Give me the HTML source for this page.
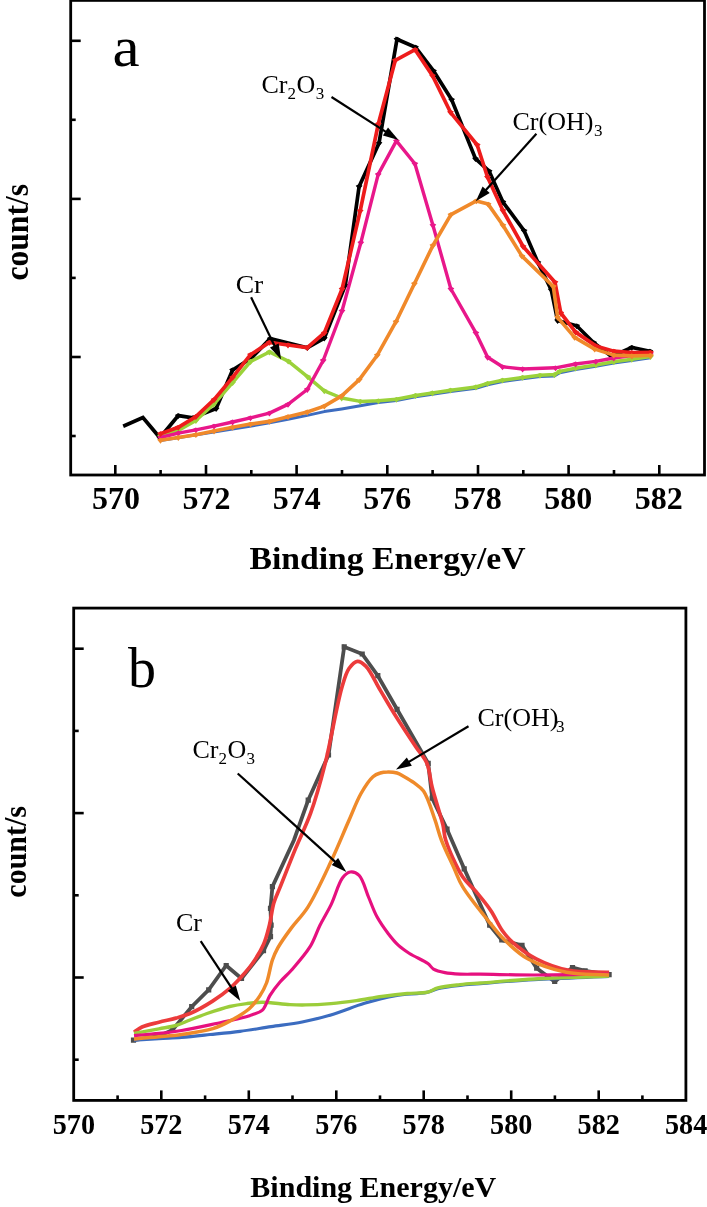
<!DOCTYPE html><html><head><meta charset="utf-8"><style>
html,body{margin:0;padding:0;background:#fff;}
body{width:707px;height:1207px;overflow:hidden;}
svg{display:block;will-change:transform;}
text{font-family:"Liberation Serif",serif;fill:#000;}
.tl{font-size:32px;font-weight:bold;}
.tlb{font-size:30px;font-weight:bold;}
.ttl{font-size:31px;font-weight:bold;}
.ttlb{font-size:30px;font-weight:bold;}
.lbl{font-size:56px;}
.ann{font-size:26px;}
.sub{font-size:17px;}
</style></head><body><svg width="707" height="1207" viewBox="0 0 707 1207"><rect x="70.7" y="0.4" width="633.8" height="474.6" fill="none" stroke="#000" stroke-width="2.8"/><line x1="70.7" y1="40.8" x2="80.7" y2="40.8" stroke="#000" stroke-width="2.6"/><line x1="70.7" y1="119.8" x2="75.7" y2="119.8" stroke="#000" stroke-width="2.6"/><line x1="70.7" y1="198.9" x2="80.7" y2="198.9" stroke="#000" stroke-width="2.6"/><line x1="70.7" y1="277.9" x2="75.7" y2="277.9" stroke="#000" stroke-width="2.6"/><line x1="70.7" y1="357.0" x2="80.7" y2="357.0" stroke="#000" stroke-width="2.6"/><line x1="70.7" y1="436.0" x2="75.7" y2="436.0" stroke="#000" stroke-width="2.6"/><line x1="115.3" y1="475.0" x2="115.3" y2="465.0" stroke="#000" stroke-width="2.6"/><text x="115.9" y="509.0" text-anchor="middle" class="tl">570</text><line x1="160.6" y1="475.0" x2="160.6" y2="470.0" stroke="#000" stroke-width="2.6"/><line x1="206.0" y1="475.0" x2="206.0" y2="465.0" stroke="#000" stroke-width="2.6"/><text x="206.4" y="509.0" text-anchor="middle" class="tl">572</text><line x1="251.3" y1="475.0" x2="251.3" y2="470.0" stroke="#000" stroke-width="2.6"/><line x1="296.6" y1="475.0" x2="296.6" y2="465.0" stroke="#000" stroke-width="2.6"/><text x="296.8" y="509.0" text-anchor="middle" class="tl">574</text><line x1="342.0" y1="475.0" x2="342.0" y2="470.0" stroke="#000" stroke-width="2.6"/><line x1="387.3" y1="475.0" x2="387.3" y2="465.0" stroke="#000" stroke-width="2.6"/><text x="387.3" y="509.0" text-anchor="middle" class="tl">576</text><line x1="432.6" y1="475.0" x2="432.6" y2="470.0" stroke="#000" stroke-width="2.6"/><line x1="478.0" y1="475.0" x2="478.0" y2="465.0" stroke="#000" stroke-width="2.6"/><text x="477.7" y="509.0" text-anchor="middle" class="tl">578</text><line x1="523.3" y1="475.0" x2="523.3" y2="470.0" stroke="#000" stroke-width="2.6"/><line x1="568.6" y1="475.0" x2="568.6" y2="465.0" stroke="#000" stroke-width="2.6"/><text x="568.2" y="509.0" text-anchor="middle" class="tl">580</text><line x1="614.0" y1="475.0" x2="614.0" y2="470.0" stroke="#000" stroke-width="2.6"/><line x1="659.3" y1="475.0" x2="659.3" y2="465.0" stroke="#000" stroke-width="2.6"/><text x="658.7" y="509.0" text-anchor="middle" class="tl">582</text><text transform="translate(387.5 568.9) scale(1.087 1)" text-anchor="middle" class="ttl">Binding Energy/eV</text><text transform="translate(27.6 232.3) rotate(-90) scale(1.02 1.06)" text-anchor="middle" class="ttl">count/s</text><text transform="translate(112.5 66) scale(1.09 1)" class="lbl">a</text><path d="M123.2 426.3 L142.9 417.6 L159.9 437.8 L178.3 415.6 L192.7 417.8 L216.1 408.6 L232.6 370.0 L251.1 358.3 L270.2 338.6 L307.3 347.7 L324.3 338.2 L345.3 285.2 L359.1 186.5 L379.0 143.1 L397.0 39.2 L415.5 47.2 L433.5 70.9 L451.6 99.6 L475.5 158.6 L489.1 171.2 L502.9 202.0 L524.1 230.6 L537.9 262.5 L551.2 289.7 L557.6 320.5 L576.7 325.8 L593.7 342.7 L611.7 356.5 L631.8 347.4 L649.9 351.2" fill="none" stroke="#000" stroke-width="3.7" stroke-linejoin="miter"/><path d="M159.9 441.2 L163.3 437.1 L159.9 435.4 L156.5 437.1 Z M178.3 419.0 L181.7 414.9 L178.3 413.2 L174.9 414.9 Z M192.7 421.2 L196.1 417.1 L192.7 415.4 L189.3 417.1 Z M216.1 412.0 L219.5 407.9 L216.1 406.2 L212.7 407.9 Z M232.6 373.4 L236.0 369.3 L232.6 367.6 L229.2 369.3 Z M251.1 361.7 L254.5 357.6 L251.1 355.9 L247.7 357.6 Z M270.2 342.0 L273.6 337.9 L270.2 336.2 L266.8 337.9 Z M307.3 351.1 L310.7 347.0 L307.3 345.3 L303.9 347.0 Z M324.3 341.6 L327.7 337.5 L324.3 335.8 L320.9 337.5 Z M345.3 288.6 L348.7 284.5 L345.3 282.8 L341.9 284.5 Z M359.1 189.9 L362.5 185.8 L359.1 184.1 L355.7 185.8 Z M379.0 146.5 L382.4 142.4 L379.0 140.7 L375.6 142.4 Z M397.0 42.6 L400.4 38.5 L397.0 36.8 L393.6 38.5 Z M415.5 50.6 L418.9 46.5 L415.5 44.8 L412.1 46.5 Z M433.5 74.3 L436.9 70.2 L433.5 68.5 L430.1 70.2 Z M451.6 103.0 L455.0 98.9 L451.6 97.2 L448.2 98.9 Z M475.5 162.0 L478.9 157.9 L475.5 156.2 L472.1 157.9 Z M489.1 174.6 L492.5 170.5 L489.1 168.8 L485.7 170.5 Z M502.9 205.4 L506.3 201.3 L502.9 199.6 L499.5 201.3 Z M524.1 234.0 L527.5 229.9 L524.1 228.2 L520.7 229.9 Z M537.9 265.9 L541.3 261.8 L537.9 260.1 L534.5 261.8 Z M551.2 293.1 L554.6 289.0 L551.2 287.3 L547.8 289.0 Z M557.6 323.9 L561.0 319.8 L557.6 318.1 L554.2 319.8 Z M576.7 329.2 L580.1 325.1 L576.7 323.4 L573.3 325.1 Z M593.7 346.1 L597.1 342.0 L593.7 340.3 L590.3 342.0 Z M611.7 359.9 L615.1 355.8 L611.7 354.1 L608.3 355.8 Z M631.8 350.8 L635.2 346.7 L631.8 345.0 L628.4 346.7 Z M649.9 354.6 L653.3 350.5 L649.9 348.8 L646.5 350.5 Z" fill="#000"/><path d="M160.5 440.5 L251.3 426.0 L269.4 422.8 L288.0 419.2 L307.3 415.4 L324.3 411.6 L341.7 409.0 L360.3 405.8 L378.4 402.6 L396.4 400.6 L415.5 396.8 L432.4 394.3 L450.5 391.5 L475.9 388.3 L487.6 384.7 L502.5 381.5 L522.6 378.7 L540.0 376.6 L554.4 375.9 L559.7 372.7 L575.6 369.5 L595.8 366.3 L613.8 363.1 L631.8 360.6 L650.5 357.8" fill="none" stroke="#3d6cc0" stroke-width="3.0" stroke-linejoin="round"/><path d="M160.5 435.8 L178.3 430.5 L195.9 420.5 L214.0 404.0 L232.6 382.7 L250.5 361.5 L269.4 352.0 L288.2 361.1 L307.7 376.8 L324.3 390.8 L341.7 398.0 L360.3 401.4 L378.4 400.8 L396.4 399.3 L415.5 395.5 L432.4 393.0 L450.5 390.2 L475.9 387.0 L487.6 383.4 L502.5 380.2 L522.6 377.4 L540.0 375.3 L554.4 374.6 L559.7 371.4 L575.6 368.2 L595.8 365.0 L613.8 361.8 L631.8 359.3 L650.5 356.5" fill="none" stroke="#9bd23a" stroke-width="3.5" stroke-linejoin="round"/><path d="M160.5 439.2 L163.9 435.1 L160.5 433.4 L157.1 435.1 Z M178.3 433.9 L181.7 429.8 L178.3 428.1 L174.9 429.8 Z M195.9 423.9 L199.3 419.8 L195.9 418.1 L192.5 419.8 Z M214.0 407.4 L217.4 403.3 L214.0 401.6 L210.6 403.3 Z M232.6 386.1 L236.0 382.0 L232.6 380.3 L229.2 382.0 Z M250.5 364.9 L253.9 360.8 L250.5 359.1 L247.1 360.8 Z M269.4 355.4 L272.8 351.3 L269.4 349.6 L266.0 351.3 Z M288.2 364.5 L291.6 360.4 L288.2 358.7 L284.8 360.4 Z M307.7 380.2 L311.1 376.1 L307.7 374.4 L304.3 376.1 Z M324.3 394.2 L327.7 390.1 L324.3 388.4 L320.9 390.1 Z M341.7 401.4 L345.1 397.3 L341.7 395.6 L338.3 397.3 Z M360.3 404.8 L363.7 400.7 L360.3 399.0 L356.9 400.7 Z M378.4 404.2 L381.8 400.1 L378.4 398.4 L375.0 400.1 Z M396.4 402.7 L399.8 398.6 L396.4 396.9 L393.0 398.6 Z M415.5 398.9 L418.9 394.8 L415.5 393.1 L412.1 394.8 Z M432.4 396.4 L435.8 392.3 L432.4 390.6 L429.0 392.3 Z M450.5 393.6 L453.9 389.5 L450.5 387.8 L447.1 389.5 Z M475.9 390.4 L479.3 386.3 L475.9 384.6 L472.5 386.3 Z M487.6 386.8 L491.0 382.7 L487.6 381.0 L484.2 382.7 Z M502.5 383.6 L505.9 379.5 L502.5 377.8 L499.1 379.5 Z M522.6 380.8 L526.0 376.7 L522.6 375.0 L519.2 376.7 Z M540.0 378.7 L543.4 374.6 L540.0 372.9 L536.6 374.6 Z M554.4 378.0 L557.8 373.9 L554.4 372.2 L551.0 373.9 Z M559.7 374.8 L563.1 370.7 L559.7 369.0 L556.3 370.7 Z M575.6 371.6 L579.0 367.5 L575.6 365.8 L572.2 367.5 Z M595.8 368.4 L599.2 364.3 L595.8 362.6 L592.4 364.3 Z M613.8 365.2 L617.2 361.1 L613.8 359.4 L610.4 361.1 Z M631.8 362.7 L635.2 358.6 L631.8 356.9 L628.4 358.6 Z M650.5 359.9 L653.9 355.8 L650.5 354.1 L647.1 355.8 Z" fill="#9bd23a"/><path d="M160.5 437.5 L178.3 433.2 L195.9 429.9 L214.0 426.2 L232.6 422.0 L250.5 417.8 L269.4 413.1 L288.0 404.4 L307.3 389.5 L323.2 360.5 L342.0 311.0 L360.8 242.7 L378.2 174.4 L396.4 140.9 L414.9 163.8 L432.9 225.3 L450.9 289.0 L475.9 332.9 L487.6 357.3 L502.5 366.8 L522.6 369.0 L555.5 367.8 L575.6 364.0 L595.8 361.4 L613.8 358.0 L631.8 355.5 L650.5 353.4" fill="none" stroke="#e8178a" stroke-width="3.4" stroke-linejoin="round"/><path d="M160.5 440.9 L163.9 436.8 L160.5 435.1 L157.1 436.8 Z M178.3 436.6 L181.7 432.5 L178.3 430.8 L174.9 432.5 Z M195.9 433.3 L199.3 429.2 L195.9 427.5 L192.5 429.2 Z M214.0 429.6 L217.4 425.5 L214.0 423.8 L210.6 425.5 Z M232.6 425.4 L236.0 421.3 L232.6 419.6 L229.2 421.3 Z M250.5 421.2 L253.9 417.1 L250.5 415.4 L247.1 417.1 Z M269.4 416.5 L272.8 412.4 L269.4 410.7 L266.0 412.4 Z M288.0 407.8 L291.4 403.7 L288.0 402.0 L284.6 403.7 Z M307.3 392.9 L310.7 388.8 L307.3 387.1 L303.9 388.8 Z M323.2 363.9 L326.6 359.8 L323.2 358.1 L319.8 359.8 Z M342.0 314.4 L345.4 310.3 L342.0 308.6 L338.6 310.3 Z M360.8 246.1 L364.2 242.0 L360.8 240.3 L357.4 242.0 Z M378.2 177.8 L381.6 173.7 L378.2 172.0 L374.8 173.7 Z M396.4 144.3 L399.8 140.2 L396.4 138.5 L393.0 140.2 Z M414.9 167.2 L418.3 163.1 L414.9 161.4 L411.5 163.1 Z M432.9 228.7 L436.3 224.6 L432.9 222.9 L429.5 224.6 Z M450.9 292.4 L454.3 288.3 L450.9 286.6 L447.5 288.3 Z M475.9 336.3 L479.3 332.2 L475.9 330.5 L472.5 332.2 Z M487.6 360.7 L491.0 356.6 L487.6 354.9 L484.2 356.6 Z M502.5 370.2 L505.9 366.1 L502.5 364.4 L499.1 366.1 Z M522.6 372.4 L526.0 368.3 L522.6 366.6 L519.2 368.3 Z M555.5 371.2 L558.9 367.1 L555.5 365.4 L552.1 367.1 Z M575.6 367.4 L579.0 363.3 L575.6 361.6 L572.2 363.3 Z M595.8 364.8 L599.2 360.7 L595.8 359.0 L592.4 360.7 Z M613.8 361.4 L617.2 357.3 L613.8 355.6 L610.4 357.3 Z M631.8 358.9 L635.2 354.8 L631.8 353.1 L628.4 354.8 Z M650.5 356.8 L653.9 352.7 L650.5 351.0 L647.1 352.7 Z" fill="#e8178a"/><path d="M160.5 433.7 L178.3 427.3 L195.9 416.7 L214.0 399.7 L232.6 377.4 L250.5 354.7 L269.4 342.4 L288.0 345.0 L307.3 347.7 L324.3 332.9 L342.1 289.0 L360.2 210.9 L378.3 124.0 L395.3 60.3 L415.1 49.7 L432.5 75.6 L450.5 112.3 L477.2 145.0 L487.5 177.0 L502.9 210.5 L523.1 246.5 L555.0 282.3 L560.8 313.0 L575.6 332.1 L595.8 345.9 L613.8 351.2 L631.8 352.7 L650.5 352.3" fill="none" stroke="#ee1c1c" stroke-width="3.7" stroke-linejoin="round"/><path d="M160.5 437.1 L163.9 433.0 L160.5 431.3 L157.1 433.0 Z M178.3 430.7 L181.7 426.6 L178.3 424.9 L174.9 426.6 Z M195.9 420.1 L199.3 416.0 L195.9 414.3 L192.5 416.0 Z M214.0 403.1 L217.4 399.0 L214.0 397.3 L210.6 399.0 Z M232.6 380.8 L236.0 376.7 L232.6 375.0 L229.2 376.7 Z M250.5 358.1 L253.9 354.0 L250.5 352.3 L247.1 354.0 Z M269.4 345.8 L272.8 341.7 L269.4 340.0 L266.0 341.7 Z M288.0 348.4 L291.4 344.3 L288.0 342.6 L284.6 344.3 Z M307.3 351.1 L310.7 347.0 L307.3 345.3 L303.9 347.0 Z M324.3 336.3 L327.7 332.2 L324.3 330.5 L320.9 332.2 Z M342.1 292.4 L345.5 288.3 L342.1 286.6 L338.7 288.3 Z M360.2 214.3 L363.6 210.2 L360.2 208.5 L356.8 210.2 Z M378.3 127.4 L381.7 123.3 L378.3 121.6 L374.9 123.3 Z M395.3 63.7 L398.7 59.6 L395.3 57.9 L391.9 59.6 Z M415.1 53.1 L418.5 49.0 L415.1 47.3 L411.7 49.0 Z M432.5 79.0 L435.9 74.9 L432.5 73.2 L429.1 74.9 Z M450.5 115.7 L453.9 111.6 L450.5 109.9 L447.1 111.6 Z M477.2 148.4 L480.6 144.3 L477.2 142.6 L473.8 144.3 Z M487.5 180.4 L490.9 176.3 L487.5 174.6 L484.1 176.3 Z M502.9 213.9 L506.3 209.8 L502.9 208.1 L499.5 209.8 Z M523.1 249.9 L526.5 245.8 L523.1 244.1 L519.7 245.8 Z M555.0 285.7 L558.4 281.6 L555.0 279.9 L551.6 281.6 Z M560.8 316.4 L564.2 312.3 L560.8 310.6 L557.4 312.3 Z M575.6 335.5 L579.0 331.4 L575.6 329.7 L572.2 331.4 Z M595.8 349.3 L599.2 345.2 L595.8 343.5 L592.4 345.2 Z M613.8 354.6 L617.2 350.5 L613.8 348.8 L610.4 350.5 Z M631.8 356.1 L635.2 352.0 L631.8 350.3 L628.4 352.0 Z M650.5 355.7 L653.9 351.6 L650.5 349.9 L647.1 351.6 Z" fill="#ee1c1c"/><path d="M160.5 440.3 L178.3 437.5 L195.9 434.7 L214.0 431.1 L232.6 427.3 L250.5 424.1 L269.4 421.4 L288.0 416.7 L307.3 412.0 L324.3 406.1 L341.7 395.9 L359.3 379.6 L377.3 355.2 L396.0 321.7 L414.4 283.7 L432.9 245.5 L450.9 214.7 L476.4 200.9 L488.1 204.1 L502.9 225.3 L522.0 256.1 L553.3 286.5 L557.6 317.3 L574.6 337.4 L594.7 349.1 L613.8 355.1 L631.8 355.9 L650.5 355.5" fill="none" stroke="#f0892a" stroke-width="3.6" stroke-linejoin="round"/><path d="M160.5 443.7 L163.9 439.6 L160.5 437.9 L157.1 439.6 Z M178.3 440.9 L181.7 436.8 L178.3 435.1 L174.9 436.8 Z M195.9 438.1 L199.3 434.0 L195.9 432.3 L192.5 434.0 Z M214.0 434.5 L217.4 430.4 L214.0 428.7 L210.6 430.4 Z M232.6 430.7 L236.0 426.6 L232.6 424.9 L229.2 426.6 Z M250.5 427.5 L253.9 423.4 L250.5 421.7 L247.1 423.4 Z M269.4 424.8 L272.8 420.7 L269.4 419.0 L266.0 420.7 Z M288.0 420.1 L291.4 416.0 L288.0 414.3 L284.6 416.0 Z M307.3 415.4 L310.7 411.3 L307.3 409.6 L303.9 411.3 Z M324.3 409.5 L327.7 405.4 L324.3 403.7 L320.9 405.4 Z M341.7 399.3 L345.1 395.2 L341.7 393.5 L338.3 395.2 Z M359.3 383.0 L362.7 378.9 L359.3 377.2 L355.9 378.9 Z M377.3 358.6 L380.7 354.5 L377.3 352.8 L373.9 354.5 Z M396.0 325.1 L399.4 321.0 L396.0 319.3 L392.6 321.0 Z M414.4 287.1 L417.8 283.0 L414.4 281.3 L411.0 283.0 Z M432.9 248.9 L436.3 244.8 L432.9 243.1 L429.5 244.8 Z M450.9 218.1 L454.3 214.0 L450.9 212.3 L447.5 214.0 Z M476.4 204.3 L479.8 200.2 L476.4 198.5 L473.0 200.2 Z M488.1 207.5 L491.5 203.4 L488.1 201.7 L484.7 203.4 Z M502.9 228.7 L506.3 224.6 L502.9 222.9 L499.5 224.6 Z M522.0 259.5 L525.4 255.4 L522.0 253.7 L518.6 255.4 Z M553.3 289.9 L556.7 285.8 L553.3 284.1 L549.9 285.8 Z M557.6 320.7 L561.0 316.6 L557.6 314.9 L554.2 316.6 Z M574.6 340.8 L578.0 336.7 L574.6 335.0 L571.2 336.7 Z M594.7 352.5 L598.1 348.4 L594.7 346.7 L591.3 348.4 Z M613.8 358.5 L617.2 354.4 L613.8 352.7 L610.4 354.4 Z M631.8 359.3 L635.2 355.2 L631.8 353.5 L628.4 355.2 Z M650.5 358.9 L653.9 354.8 L650.5 353.1 L647.1 354.8 Z" fill="#f0892a"/><text transform="translate(235.7 293) scale(1.06 1)" class="ann">Cr</text><line x1="251.1" y1="297.3" x2="275.2" y2="347.3" stroke="#000" stroke-width="2.2"/><path d="M281.1 359.5 L270.0 347.6 L278.7 343.5 Z" fill="#000"/><text x="261.5" y="92.8" class="ann">Cr</text><text x="287.5" y="98.9" class="sub">2</text><text x="296.5" y="92.8" class="ann">O</text><text x="315.8" y="98.9" class="sub">3</text><line x1="331.5" y1="97.0" x2="387.1" y2="132.6" stroke="#000" stroke-width="2.2"/><path d="M398.5 139.9 L382.9 135.6 L388.0 127.5 Z" fill="#000"/><text x="512.5" y="130" class="ann">Cr(OH)</text><text x="594" y="135.9" class="sub">3</text><line x1="536.4" y1="133.8" x2="484.8" y2="191.3" stroke="#000" stroke-width="2.2"/><path d="M475.8 201.3 L482.6 186.6 L489.7 193.0 Z" fill="#000"/><rect x="73.7" y="608.1" width="612.1999999999999" height="492.30000000000007" fill="none" stroke="#000" stroke-width="2.8"/><line x1="73.7" y1="648.7" x2="83.7" y2="648.7" stroke="#000" stroke-width="2.6"/><line x1="73.7" y1="730.9" x2="78.7" y2="730.9" stroke="#000" stroke-width="2.6"/><line x1="73.7" y1="813.1" x2="83.7" y2="813.1" stroke="#000" stroke-width="2.6"/><line x1="73.7" y1="895.3" x2="78.7" y2="895.3" stroke="#000" stroke-width="2.6"/><line x1="73.7" y1="977.5" x2="83.7" y2="977.5" stroke="#000" stroke-width="2.6"/><line x1="73.7" y1="1059.7" x2="78.7" y2="1059.7" stroke="#000" stroke-width="2.6"/><text transform="translate(73.9 1133.9) scale(0.94 1)" text-anchor="middle" class="tlb">570</text><line x1="117.6" y1="1100.4" x2="117.6" y2="1095.4" stroke="#000" stroke-width="2.6"/><line x1="161.3" y1="1100.4" x2="161.3" y2="1090.4" stroke="#000" stroke-width="2.6"/><text transform="translate(161.3 1133.9) scale(0.94 1)" text-anchor="middle" class="tlb">572</text><line x1="205.1" y1="1100.4" x2="205.1" y2="1095.4" stroke="#000" stroke-width="2.6"/><line x1="248.8" y1="1100.4" x2="248.8" y2="1090.4" stroke="#000" stroke-width="2.6"/><text transform="translate(248.8 1133.9) scale(0.94 1)" text-anchor="middle" class="tlb">574</text><line x1="292.5" y1="1100.4" x2="292.5" y2="1095.4" stroke="#000" stroke-width="2.6"/><line x1="336.3" y1="1100.4" x2="336.3" y2="1090.4" stroke="#000" stroke-width="2.6"/><text transform="translate(336.3 1133.9) scale(0.94 1)" text-anchor="middle" class="tlb">576</text><line x1="380.0" y1="1100.4" x2="380.0" y2="1095.4" stroke="#000" stroke-width="2.6"/><line x1="423.7" y1="1100.4" x2="423.7" y2="1090.4" stroke="#000" stroke-width="2.6"/><text transform="translate(423.7 1133.9) scale(0.94 1)" text-anchor="middle" class="tlb">578</text><line x1="467.5" y1="1100.4" x2="467.5" y2="1095.4" stroke="#000" stroke-width="2.6"/><line x1="511.2" y1="1100.4" x2="511.2" y2="1090.4" stroke="#000" stroke-width="2.6"/><text transform="translate(511.2 1133.9) scale(0.94 1)" text-anchor="middle" class="tlb">580</text><line x1="554.9" y1="1100.4" x2="554.9" y2="1095.4" stroke="#000" stroke-width="2.6"/><line x1="598.7" y1="1100.4" x2="598.7" y2="1090.4" stroke="#000" stroke-width="2.6"/><text transform="translate(598.7 1133.9) scale(0.94 1)" text-anchor="middle" class="tlb">582</text><line x1="642.4" y1="1100.4" x2="642.4" y2="1095.4" stroke="#000" stroke-width="2.6"/><text transform="translate(686.1 1133.9) scale(0.94 1)" text-anchor="middle" class="tlb">584</text><text x="373.3" y="1196.7" text-anchor="middle" class="ttlb">Binding Energy/eV</text><text transform="translate(26.3 851.8) rotate(-90) scale(1 1.06)" text-anchor="middle" class="ttlb">count/s</text><text x="128" y="686.7" class="lbl">b</text><path d="M133.5 1040.2 L158.9 1036.2 L172.5 1030.0 L191.7 1006.7 L208.7 989.8 L226.2 965.5 L241.5 978.5 L263.5 950.7 L270.5 936.6 L271.1 925.2 L270.5 908.3 L272.4 886.7 L294.0 840.0 L308.2 800.2 L328.5 755.0 L344.2 646.8 L362.2 654.0 L377.8 675.7 L397.0 709.3 L428.2 763.3 L432.2 798.2 L447.0 829.2 L464.2 868.8 L489.7 925.2 L501.8 940.0 L522.0 945.4 L536.7 968.2 L554.7 981.5 L572.5 967.6 L585.1 970.9 L609.1 974.6" fill="none" stroke="#4d4d4d" stroke-width="3.8" stroke-linejoin="miter"/><path d="M130.9 1037.6 h5.2 v5.2 h-5.2 Z M156.3 1033.6 h5.2 v5.2 h-5.2 Z M169.9 1027.4 h5.2 v5.2 h-5.2 Z M189.1 1004.1 h5.2 v5.2 h-5.2 Z M206.1 987.2 h5.2 v5.2 h-5.2 Z M223.6 962.9 h5.2 v5.2 h-5.2 Z M238.9 975.9 h5.2 v5.2 h-5.2 Z M260.9 948.1 h5.2 v5.2 h-5.2 Z M267.9 934.0 h5.2 v5.2 h-5.2 Z M268.5 922.6 h5.2 v5.2 h-5.2 Z M267.9 905.7 h5.2 v5.2 h-5.2 Z M269.8 884.1 h5.2 v5.2 h-5.2 Z M305.6 797.6 h5.2 v5.2 h-5.2 Z M325.9 752.4 h5.2 v5.2 h-5.2 Z M341.6 644.2 h5.2 v5.2 h-5.2 Z M359.6 651.4 h5.2 v5.2 h-5.2 Z M375.2 673.1 h5.2 v5.2 h-5.2 Z M394.4 706.7 h5.2 v5.2 h-5.2 Z M425.6 760.7 h5.2 v5.2 h-5.2 Z M429.6 795.6 h5.2 v5.2 h-5.2 Z M444.4 826.6 h5.2 v5.2 h-5.2 Z M461.6 866.2 h5.2 v5.2 h-5.2 Z M487.1 922.6 h5.2 v5.2 h-5.2 Z M499.2 937.4 h5.2 v5.2 h-5.2 Z M519.4 942.8 h5.2 v5.2 h-5.2 Z M534.1 965.6 h5.2 v5.2 h-5.2 Z M552.1 978.9 h5.2 v5.2 h-5.2 Z M569.9 965.0 h5.2 v5.2 h-5.2 Z M582.5 968.3 h5.2 v5.2 h-5.2 Z M606.5 972.0 h5.2 v5.2 h-5.2 Z" fill="#4d4d4d"/><path d="M134.0 1032.2 C136.7 1030.5 138.7 1028.5 142.0 1027.0 C146.5 1025.0 153.2 1023.7 158.9 1022.2 C164.5 1020.7 170.5 1019.6 175.9 1018.1 C180.8 1016.7 184.9 1015.7 190.0 1013.5 C196.8 1010.6 205.7 1005.5 212.6 1001.1 C218.8 997.1 224.6 992.9 229.6 988.6 C233.9 984.9 237.2 981.3 240.9 977.3 C244.8 973.1 248.6 968.9 252.2 963.8 C256.2 958.1 260.6 951.1 263.5 944.5 C266.3 938.2 267.7 931.9 269.4 925.2 C271.2 918.0 271.9 909.2 273.9 902.6 C275.5 897.2 277.2 894.3 279.6 888.4 C283.6 878.5 290.2 861.5 295.5 848.6 C300.6 836.3 306.1 825.8 310.7 812.9 C316.0 798.2 320.3 782.7 324.9 764.6 C330.7 742.0 336.8 704.7 341.8 687.7 C344.4 679.0 345.8 673.1 349.0 668.5 C351.4 665.1 354.5 661.6 357.4 661.3 C360.1 661.0 363.0 663.4 365.8 666.1 C370.6 670.8 375.4 682.1 380.2 690.1 C385.0 698.1 389.2 705.6 394.6 714.2 C401.0 724.4 410.1 738.2 416.1 747.2 C420.3 753.5 424.3 757.1 426.9 763.3 C429.9 770.3 429.9 778.6 432.2 787.5 C435.0 798.7 440.7 815.4 443.0 825.1 C444.4 831.2 443.8 834.1 445.7 840.0 C448.8 849.7 456.6 867.7 462.6 876.8 C466.7 883.0 471.0 885.7 475.4 890.9 C480.4 896.9 486.4 903.9 490.9 910.7 C495.2 917.1 498.3 925.0 502.2 930.5 C505.4 935.0 507.8 937.9 512.1 941.8 C518.1 947.2 527.2 954.1 536.2 958.8 C546.0 963.9 557.3 968.1 569.0 970.4 C581.5 972.9 595.7 971.7 609.1 972.4" fill="none" stroke="#ec3b3b" stroke-width="3.7"/><path d="M134.0 1040.2 C142.3 1039.7 150.8 1039.1 158.9 1038.6 C166.6 1038.1 173.6 1037.9 181.6 1037.3 C190.5 1036.6 200.4 1035.5 210.0 1034.5 C219.9 1033.5 229.9 1032.6 240.0 1031.3 C250.3 1030.0 260.7 1028.2 271.1 1026.7 C281.5 1025.1 291.9 1024.1 302.2 1022.0 C312.6 1019.9 323.0 1017.3 333.3 1014.2 C343.8 1011.1 354.0 1006.4 364.5 1003.3 C374.8 1000.2 385.2 997.4 395.6 995.6 C405.9 993.8 419.0 994.1 426.7 992.4 C431.4 991.4 433.4 989.7 437.8 988.6 C443.9 987.1 452.8 986.1 460.0 985.3 C466.9 984.5 471.9 984.3 480.3 983.6 C493.9 982.5 514.7 980.7 534.1 979.6 C557.0 978.3 584.1 977.5 609.1 976.5" fill="none" stroke="#3b6cc0" stroke-width="3.2"/><path d="M134.0 1033.4 C142.3 1031.9 151.4 1030.2 158.9 1028.8 C165.1 1027.6 170.6 1027.0 175.9 1025.5 C180.9 1024.1 185.1 1021.9 190.0 1020.0 C195.4 1017.9 200.9 1015.6 207.0 1013.5 C214.0 1011.1 222.6 1008.2 229.6 1006.5 C235.6 1005.1 241.1 1004.3 246.6 1003.6 C251.8 1002.9 256.1 1002.3 262.0 1002.3 C269.9 1002.3 282.0 1004.2 290.0 1004.6 C295.9 1004.9 299.7 1005.0 305.5 1004.9 C312.9 1004.8 322.4 1004.3 330.9 1003.6 C339.4 1002.9 347.9 1001.8 356.4 1000.6 C364.9 999.4 373.3 997.7 381.8 996.5 C390.3 995.3 399.3 994.2 407.3 993.5 C414.5 992.9 422.2 993.5 427.7 992.2 C431.8 991.2 433.7 989.1 437.8 987.9 C443.7 986.2 452.8 985.4 460.0 984.6 C466.9 983.8 471.9 983.6 480.3 983.0 C493.9 982.0 514.7 980.1 534.1 979.0 C557.0 977.7 584.1 977.0 609.1 976.0" fill="none" stroke="#9bcd3a" stroke-width="3.4"/><path d="M134.0 1035.6 C142.3 1034.9 150.8 1034.3 158.9 1033.4 C166.6 1032.6 173.0 1031.9 181.6 1030.5 C193.2 1028.6 211.7 1024.4 222.0 1022.3 C228.4 1021.0 232.4 1020.3 237.5 1019.0 C242.5 1017.7 247.8 1016.3 252.2 1014.7 C256.0 1013.3 259.6 1012.8 262.4 1010.1 C265.8 1006.9 267.1 1000.1 270.0 995.4 C272.9 990.7 276.4 986.2 280.0 982.0 C283.6 977.8 287.4 974.8 291.6 970.0 C297.2 963.6 305.2 954.6 310.1 946.7 C314.4 939.6 316.5 932.2 320.0 925.2 C323.5 918.2 327.5 912.0 331.1 904.6 C335.1 896.3 338.4 883.2 342.6 877.8 C345.0 874.7 347.4 872.4 350.2 872.0 C352.9 871.6 356.5 872.8 359.1 875.3 C363.2 879.2 365.5 889.9 368.5 897.0 C371.4 903.7 373.6 910.6 377.0 916.8 C380.3 922.8 384.5 928.7 388.3 933.7 C391.6 938.0 394.6 941.8 398.2 945.1 C401.7 948.3 405.2 950.7 409.5 953.5 C414.8 956.9 423.7 960.4 427.9 963.5 C430.5 965.4 431.1 967.6 433.5 969.1 C436.5 970.9 440.8 971.8 444.9 972.6 C449.5 973.5 454.6 973.8 460.0 974.1 C466.3 974.4 471.9 974.1 480.3 974.2 C493.9 974.3 514.7 975.0 534.1 975.0 C557.0 975.0 584.1 974.3 609.1 974.0" fill="none" stroke="#e6107f" stroke-width="3.2"/><path d="M134.0 1039.0 C142.3 1038.3 150.8 1037.6 158.9 1036.8 C166.6 1036.1 173.5 1035.7 181.6 1034.5 C191.2 1033.1 203.9 1031.5 212.8 1028.7 C219.9 1026.5 225.1 1023.7 231.1 1020.4 C237.4 1017.0 244.5 1013.0 249.5 1008.5 C253.9 1004.6 257.1 1000.0 260.0 995.6 C262.7 991.5 264.6 988.0 266.5 983.0 C268.9 976.6 270.2 966.4 272.4 960.0 C274.1 955.2 275.4 952.3 277.8 947.9 C281.0 942.1 286.1 935.1 290.9 928.6 C296.1 921.5 302.2 916.0 307.9 907.1 C315.6 895.0 324.1 876.2 331.1 861.3 C337.6 847.4 343.5 832.7 348.9 820.5 C353.3 810.6 356.6 801.2 361.0 793.5 C364.7 787.0 369.1 780.1 373.0 776.7 C375.4 774.6 377.7 773.8 380.2 773.0 C382.5 772.2 384.8 771.9 387.4 771.9 C390.4 771.8 394.1 772.1 397.0 773.0 C399.7 773.8 401.7 775.3 404.3 776.7 C407.3 778.4 410.8 780.4 413.9 782.7 C417.2 785.2 420.6 787.0 423.5 791.1 C428.0 797.5 431.8 810.9 434.9 819.7 C437.5 827.0 438.6 832.8 441.4 840.0 C444.7 848.7 450.3 859.9 454.1 868.3 C457.2 875.1 458.5 879.9 462.6 886.7 C468.5 896.6 480.5 911.1 488.1 920.6 C493.8 927.8 497.6 933.0 503.6 939.0 C510.5 945.8 518.2 953.4 527.7 958.8 C538.6 964.9 552.9 969.6 566.3 972.3 C580.0 975.1 594.8 974.2 609.1 975.1" fill="none" stroke="#ef8a2a" stroke-width="3.5"/><text x="176" y="930.5" class="ann">Cr</text><line x1="200.7" y1="941.1" x2="232.9" y2="989.8" stroke="#000" stroke-width="2.2"/><path d="M240.3 1001.1 L227.8 990.8 L235.8 985.5 Z" fill="#000"/><text x="192.5" y="757.8" class="ann">Cr</text><text x="218.5" y="764.1" class="sub">2</text><text x="227.5" y="757.8" class="ann">O</text><text x="246.5" y="764.1" class="sub">3</text><line x1="237.7" y1="773.5" x2="336.4" y2="862.9" stroke="#000" stroke-width="2.2"/><path d="M346.4 872.0 L331.7 865.1 L338.1 858.0 Z" fill="#000"/><text x="477.5" y="725.7" class="ann">Cr(OH)</text><text x="556" y="732.4" class="sub">3</text><line x1="468.5" y1="726.2" x2="407.6" y2="762.6" stroke="#000" stroke-width="2.2"/><path d="M396.0 769.5 L406.8 757.4 L411.8 765.7 Z" fill="#000"/></svg></body></html>
